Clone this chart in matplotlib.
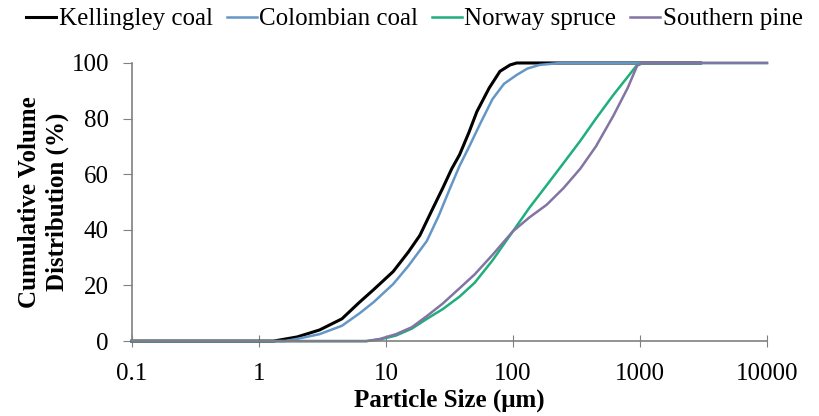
import matplotlib.pyplot as plt
import numpy as np

plt.rcParams['font.family'] = 'serif'
plt.rcParams['font.serif'] = ['Liberation Serif', 'DejaVu Serif']

# particle size (um) and cumulative volume (%)
kel_size = [0.1, 1.0, 1.3, 2, 3, 4.5, 6.2, 8, 11.4, 15, 18.5, 23, 28, 33, 38,
            45, 52, 65, 79, 95, 107, 130, 3000]
kel_vol = [0, 0, 0, 1.5, 4, 8, 14, 18.5, 25, 32, 38, 47, 55, 62, 67,
           75, 82.5, 91, 97, 99.3, 100, 100, 100]

col_size = [0.1, 1.3, 1.6, 2, 3, 4.5, 6.2, 8, 11.4, 15, 21, 26, 32, 38, 46,
            55, 69, 85, 107, 130, 162, 236, 3000]
col_vol = [0, 0, 0, 0.8, 2.5, 5.5, 10, 14, 20.5, 27, 36, 45, 55, 63, 70.6,
           78, 87, 92.5, 95.7, 98, 99.3, 100, 100]

spruce_size = [0.1, 7, 9, 12, 16, 21, 28, 38, 50, 69, 100, 135, 184, 250,
               339, 450, 617, 800, 950, 1050, 10000]
spruce_vol = [0, 0, 0.6, 2, 4.5, 8, 11.5, 16, 21, 29, 39.5, 48, 56, 64,
              72, 80, 88.5, 95, 99.3, 100, 100]

pine_size = [0.1, 7, 9, 12, 16, 21, 28, 38, 50, 69, 100, 135, 184, 250,
             339, 450, 617, 800, 950, 1050, 10000]
pine_vol = [0, 0, 0.8, 2.5, 5, 9, 13.5, 19, 24, 31, 39.5, 44.5, 49, 55,
            62, 70, 81, 91, 99, 100, 100]

x_ticks = [0.1, 1, 10, 100, 1000, 10000]
x_ticklabels = ['0.1', '1', '10', '100', '1000', '10000']
y_ticks = [0, 20, 40, 60, 80, 100]

fam = 'Liberation Serif'

fig = plt.figure(figsize=(8.19, 4.16), dpi=100)
ax = fig.add_axes([0.161, 0.180, 0.7755, 0.6686])

ax.plot(kel_size, kel_vol, color='black', lw=2.2, label='Kellingley coal', clip_on=False)
ax.plot(col_size, col_vol, color='#6497c6', lw=1.8, label='Colombian coal', clip_on=False)
ax.plot(spruce_size, spruce_vol, color='#1fae7c', lw=1.8, label='Norway spruce', clip_on=False)
ax.plot(pine_size, pine_vol, color='#8274a3', lw=1.8, label='Southern pine', clip_on=False)

ax.set_xscale('log')
ax.set_xlim(0.1, 10000)
ax.set_ylim(0, 100)
ax.set_xticks(x_ticks)
ax.set_xticklabels(x_ticklabels, family=fam)
ax.xaxis.set_minor_locator(plt.NullLocator())
ax.set_yticks(y_ticks)
ax.set_yticklabels([str(v) for v in y_ticks], family=fam)

for s in ['top', 'right']:
    ax.spines[s].set_visible(False)
for s in ['left', 'bottom']:
    ax.spines[s].set_color('#808080')
    ax.spines[s].set_linewidth(1.2)

ax.tick_params(axis='y', direction='out', length=6.5, color='#808080', labelsize=18, pad=10)
ax.tick_params(axis='x', direction='inout', length=8, color='#808080', labelsize=18, pad=12)

ax.set_xlabel('Particle Size (\u03bcm)', fontsize=18, fontweight='bold', family=fam, labelpad=2)
ax.set_ylabel('Cumulative Volume\nDistribution (%)', fontsize=18, fontweight='bold', family=fam,
              linespacing=1.25, labelpad=2)

fig.legend(loc='upper center', bbox_to_anchor=(0.506, 1.035), ncol=4, frameon=False,
           prop={'family': fam, 'size': 18}, handlelength=1.2, handletextpad=0.1,
           columnspacing=0.55)

plt.savefig('out.png', dpi=100)
